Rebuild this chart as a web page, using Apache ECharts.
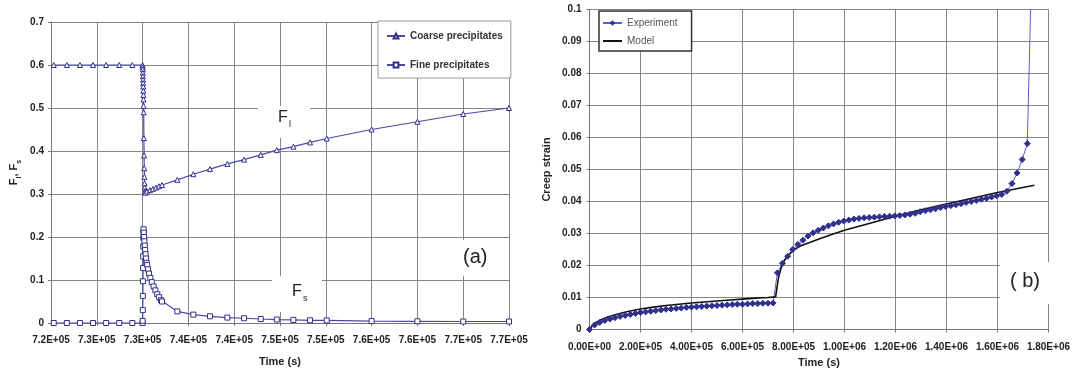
<!DOCTYPE html>
<html>
<head>
<meta charset="utf-8">
<script src="https://cdn.jsdelivr.net/npm/echarts@6/dist/echarts.min.js"></script>
<style>
html,body{margin:0;padding:0;background:#fff;}
#c{width:1073px;height:378px;}
</style>
</head>
<body>
<div id="c"></div>
<script>
// ---------- Chart (a) data ----------
const coarseTime = [720300,721730,723160,724590,726020,727450,728880,730000,
  730010,730020,730030,730040,730050,730060,730070,730080,730090,730100,730110,730120,
  730140,730160,730180,730200,730220,730240,730270,730300,
  730480,730810,731140,731470,731790,732120,
  733790,735540,737360,739250,741080,742900,744650,746460,748280,750100,
  755000,760000,765000,770000];
const coarseF = [0.6,0.6,0.6,0.6,0.6,0.6,0.6,0.6,
  0.595,0.59,0.582,0.574,0.566,0.558,0.55,0.54,0.53,0.52,0.505,0.49,
  0.43,0.39,0.36,0.34,0.325,0.315,0.307,0.303,
  0.306,0.309,0.312,0.315,0.318,0.321,
  0.333,0.346,0.358,0.37,0.38,0.391,0.402,0.41,0.42,0.429,
  0.45,0.468,0.486,0.5];
const fineTime = [720300,721730,723160,724590,726020,727450,728880,730000,
  730010,730020,730030,730040,730050,730060,730070,730080,730090,730100,
  730130,730160,730200,730240,730280,730330,730380,730440,730500,730600,730700,730850,
  731000,731200,731400,731600,731800,732000,732120,
  733790,735540,737360,739250,741080,742900,744650,746460,748280,750100,
  755000,760000,765000,770000];
const fineF = [0,0,0,0,0,0,0,0,
  0.005,0.03,0.063,0.097,0.128,0.155,0.178,0.198,0.212,0.218,
  0.21,0.2,0.19,0.18,0.17,0.16,0.15,0.14,0.135,0.125,0.115,0.105,
  0.095,0.085,0.076,0.067,0.06,0.053,0.05,
  0.027,0.0195,0.0156,0.0126,0.011,0.0093,0.008,0.0072,0.0063,0.006,
  0.0045,0.004,0.0035,0.0035];
const aXTickLabels = ['7.2E+05','7.3E+05','7.3E+05','7.4E+05','7.4E+05','7.5E+05','7.5E+05','7.6E+05','7.6E+05','7.7E+05','7.7E+05'];
const aYTickLabels = ['0','0.1','0.2','0.3','0.4','0.5','0.6','0.7'];

// ---------- Chart (b) data ----------
const expTime = [0,20000,40000,60000,80000,100000,120000,140000,160000,180000,200000,
  220000,240000,260000,280000,300000,320000,340000,360000,380000,400000,
  420000,440000,460000,480000,500000,520000,540000,560000,580000,600000,
  620000,640000,660000,680000,700000,720000,
  737000,757000,777000,797000,817000,837000,857000,877000,897000,917000,937000,957000,977000,997000,
  1017000,1037000,1057000,1077000,1097000,1117000,1137000,1157000,1177000,1197000,
  1217000,1237000,1257000,1277000,1297000,1317000,1337000,1357000,1377000,1397000,
  1417000,1437000,1457000,1477000,1497000,1517000,1537000,1557000,1577000,1597000,
  1617000,1637000,1657000,1677000,1697000,1717000,1730000];
const expStrain = [0,0.0014,0.0022,0.0028,0.0033,0.0037,0.0041,0.0044,0.0047,0.005,0.0053,
  0.0055,0.0057,0.0059,0.0061,0.0063,0.0064,0.0066,0.0067,0.0069,0.007,
  0.0071,0.0072,0.0073,0.0074,0.0075,0.0076,0.0077,0.0078,0.0079,0.0079,
  0.008,0.0081,0.0081,0.0082,0.0082,0.0083,
  0.0177,0.0207,0.0229,0.025,0.0266,0.0279,0.0292,0.0302,0.031,0.0317,0.0324,0.033,0.0335,0.0339,
  0.0342,0.0345,0.0347,0.0349,0.035,0.0351,0.0352,0.0353,0.0354,0.0355,
  0.0356,0.0358,0.036,0.0363,0.0368,0.0371,0.0374,0.0377,0.0381,0.0384,
  0.0387,0.039,0.0393,0.0397,0.04,0.0403,0.0407,0.041,0.0414,0.0418,
  0.0422,0.0432,0.0456,0.0489,0.0531,0.0581,0.1];
const modelTime = [0,10000,25000,50000,75000,100000,150000,200000,250000,300000,350000,400000,
  450000,500000,550000,600000,650000,700000,730000,735000,742000,750000,760000,775000,
  800000,825000,850000,900000,950000,1000000,1100000,1200000,1300000,1400000,1500000,
  1600000,1700000,1745000];
const modelStrain = [0,0.0012,0.0022,0.0032,0.004,0.0046,0.0056,0.0064,0.007,0.0075,0.0079,0.0083,
  0.0086,0.0089,0.0092,0.0095,0.0098,0.01,0.0102,0.013,0.0165,0.0188,0.021,0.0228,
  0.0248,0.026,0.0268,0.0283,0.0297,0.031,0.0332,0.0354,0.0374,0.0392,0.041,
  0.0428,0.0444,0.0451];
const bXTickLabels = ['0.00E+00','2.00E+05','4.00E+05','6.00E+05','8.00E+05','1.00E+06','1.20E+06','1.40E+06','1.60E+06','1.80E+06'];
const bYTickLabels = ['0','0.01','0.02','0.03','0.04','0.05','0.06','0.07','0.08','0.09','0.1'];

const zip = (a, b) => a.map((v, i) => [v, b[i]]);
const FONT = 'Liberation Sans, Arial, sans-serif';
const GRID = '#868686';
const BLUE = '#4a4aa6';
const DARK = '#30308f';

const tickLbl = (arr, min, step) => (v) => arr[Math.round((v - min) / step)] || '';

const axisCommon = {
  axisLine: {show: true, lineStyle: {color: '#777', width: 1}},
  axisTick: {show: true, length: 3, lineStyle: {color: '#777'}},
  splitLine: {show: true, lineStyle: {color: GRID, width: 1}},
  axisLabel: {color: '#222', fontFamily: FONT, fontWeight: 'bold', fontSize: 10, showMinLabel: true, showMaxLabel: true, hideOverlap: false}
};

const chart = echarts.init(document.getElementById('c'), null, {renderer: 'canvas'});
chart.setOption({
  animation: false,
  backgroundColor: '#fff',
  grid: [
    {left: 51, right: 564, top: 22, bottom: 55, containLabel: false},
    {left: 589.5, right: 18.5, top: 9.5, bottom: 48.5, containLabel: false}
  ],
  xAxis: [
    Object.assign({}, axisCommon, {
      type: 'value', gridIndex: 0, min: 720000, max: 770000, interval: 5000,
      name: 'Time (s)', nameLocation: 'middle', nameGap: 33,
      nameTextStyle: {fontFamily: FONT, fontWeight: 'bold', fontSize: 11, color: '#222'},
      axisLabel: Object.assign({}, axisCommon.axisLabel, {margin: 12, formatter: tickLbl(aXTickLabels, 720000, 5000)})
    }),
    Object.assign({}, axisCommon, {
      type: 'value', gridIndex: 1, min: 0, max: 1800000, interval: 200000,
      name: 'Time (s)', nameLocation: 'middle', nameGap: 26,
      nameTextStyle: {fontFamily: FONT, fontWeight: 'bold', fontSize: 11, color: '#222'},
      axisLabel: Object.assign({}, axisCommon.axisLabel, {margin: 13, formatter: tickLbl(bXTickLabels, 0, 200000)})
    })
  ],
  yAxis: [
    Object.assign({}, axisCommon, {
      type: 'value', gridIndex: 0, min: 0, max: 0.7, interval: 0.1,
      name: '{b|F}{s|l}{b|, F}{s|s}', nameLocation: 'middle', nameGap: 28,
      nameTextStyle: {rich: {
        b: {fontFamily: FONT, fontWeight: 'bold', fontSize: 11, color: '#222', lineHeight: 15, verticalAlign: 'top'},
        s: {fontFamily: FONT, fontWeight: 'bold', fontSize: 7, color: '#222', lineHeight: 15, verticalAlign: 'bottom'}
      }},
      axisLabel: Object.assign({}, axisCommon.axisLabel, {margin: 7, formatter: tickLbl(aYTickLabels, 0, 0.1)})
    }),
    Object.assign({}, axisCommon, {
      type: 'value', gridIndex: 1, min: 0, max: 0.1, interval: 0.01,
      name: 'Creep strain', nameLocation: 'middle', nameGap: 37,
      nameTextStyle: {fontFamily: FONT, fontWeight: 'bold', fontSize: 11, color: '#222'},
      axisLabel: Object.assign({}, axisCommon.axisLabel, {margin: 8, formatter: tickLbl(bYTickLabels, 0, 0.01)})
    })
  ],
  legend: [
    {
      data: ['Coarse precipitates', 'Fine precipitates'],
      orient: 'vertical', left: 378, top: 21,
      padding: [10, 8, 8, 8], itemGap: 19, itemWidth: 18, itemHeight: 6,
      backgroundColor: '#fff', borderColor: '#9a9a9a', borderWidth: 1,
      textStyle: {fontFamily: FONT, fontWeight: 'bold', fontSize: 10, color: '#333'}
    },
    {
      data: ['Experiment', 'Model'],
      orient: 'vertical', left: 599, top: 11,
      padding: [7, 14, 5, 3], itemGap: 8, itemWidth: 19, itemHeight: 7,
      backgroundColor: '#fff', borderColor: '#333', borderWidth: 1.5,
      textStyle: {fontFamily: FONT, fontSize: 10, color: '#555'}
    }
  ],
  series: [
    {
      name: 'Coarse precipitates', type: 'line', xAxisIndex: 0, yAxisIndex: 0,
      data: zip(coarseTime, coarseF),
      symbol: 'triangle', symbolSize: 5, showAllSymbol: true,
      lineStyle: {color: BLUE, width: 1.2},
      itemStyle: {color: '#fff', borderColor: DARK, borderWidth: 1}
    },
    {
      name: 'Fine precipitates', type: 'line', xAxisIndex: 0, yAxisIndex: 0,
      data: zip(fineTime, fineF),
      symbol: 'rect', symbolSize: 5, showAllSymbol: true,
      lineStyle: {color: BLUE, width: 1.2},
      itemStyle: {color: '#fff', borderColor: DARK, borderWidth: 1}
    },
    {
      name: 'Experiment', type: 'line', xAxisIndex: 1, yAxisIndex: 1,
      data: zip(expTime, expStrain).map((p, i, arr) => i === arr.length - 1 ? {value: p, symbol: 'none'} : p),
      symbol: 'diamond', symbolSize: 6, showAllSymbol: true,
      lineStyle: {color: '#5a5ac8', width: 1},
      itemStyle: {color: DARK, borderColor: DARK}
    },
    {
      name: 'Model', type: 'line', xAxisIndex: 1, yAxisIndex: 1,
      data: zip(modelTime, modelStrain),
      symbol: 'line', showSymbol: false, smooth: false,
      lineStyle: {color: '#111', width: 1.6},
      itemStyle: {color: '#111', borderColor: '#111'}
    }
  ],
  graphic: [
    {type: 'rect', shape: {x: 258, y: 106, width: 52, height: 32}, style: {fill: '#fff'}, z: 10},
    {type: 'text', x: 278, y: 110, style: {text: 'F', font: '16px ' + FONT, fill: '#222'}, z: 11},
    {type: 'text', x: 289, y: 120, style: {text: 'l', font: '9px ' + FONT, fill: '#222'}, z: 11},
    {type: 'rect', shape: {x: 272, y: 276, width: 50, height: 36}, style: {fill: '#fff'}, z: 10},
    {type: 'text', x: 292, y: 284, style: {text: 'F', font: '16px ' + FONT, fill: '#222'}, z: 11},
    {type: 'text', x: 303, y: 294, style: {text: 's', font: '9px ' + FONT, fill: '#222'}, z: 11},
    {type: 'rect', shape: {x: 448, y: 240, width: 56, height: 36}, style: {fill: '#fff'}, z: 10},
    {type: 'text', x: 463, y: 247, style: {text: '(a)', font: '20px ' + FONT, fill: '#222'}, z: 11},
    {type: 'rect', shape: {x: 1000, y: 262, width: 56, height: 42}, style: {fill: '#fff'}, z: 10},
    {type: 'text', x: 1010, y: 271, style: {text: '( b)', font: '20px ' + FONT, fill: '#222'}, z: 11}
  ]
});
</script>
</body>
</html>
